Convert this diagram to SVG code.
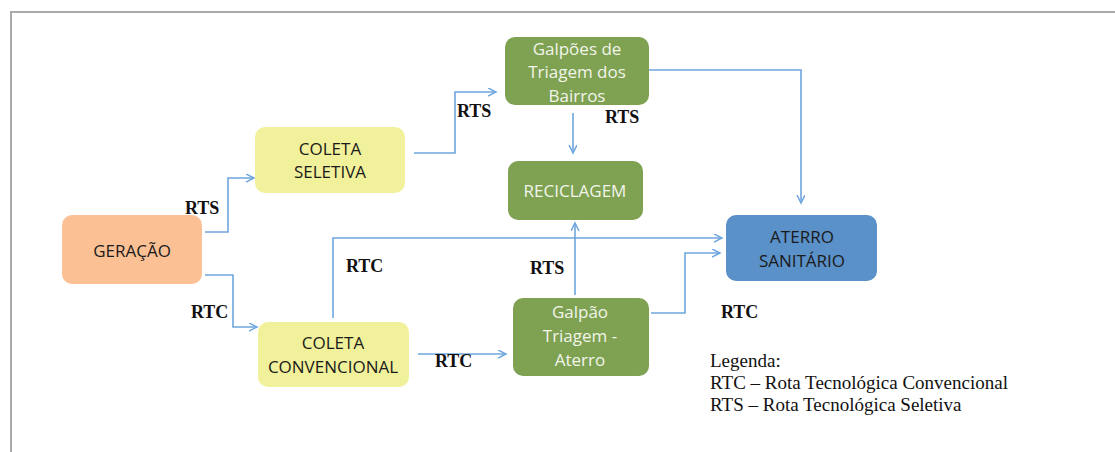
<svg xmlns="http://www.w3.org/2000/svg" width="1115" height="452" viewBox="0 0 1115 452">
<style>
.node text{font-family:"Open Sans","Liberation Sans",sans-serif;font-size:17px;text-anchor:middle}
.dark{fill:#1a1a1a}
.light{fill:#f2f5ea}
.lbl{font-family:"Liberation Serif","Times New Roman",serif;font-size:18px;font-weight:bold;fill:#111}
.leg{font-family:"Liberation Serif","Times New Roman",serif;font-size:19px;fill:#111}
.conn path{fill:none;stroke:#6fa6de;stroke-width:1.6}
.green{fill:#7ea152}
</style>
<defs>
<marker id="arr" markerWidth="10" markerHeight="10" refX="8" refY="4" orient="auto" markerUnits="userSpaceOnUse">
<path d="M0,0 L8,4 L0,8" fill="none" stroke="#6fa6de" stroke-width="1.5"/>
</marker>
</defs>
<rect width="1115" height="452" fill="#fff"/>
<path d="M11,452 V12 H1115" fill="none" stroke="#aaa" stroke-width="2"/>
<g class="conn">
<path d="M205,232 H228 V178 H254" marker-end="url(#arr)"/>
<path d="M205,275 H233 V327 H257" marker-end="url(#arr)"/>
<path d="M414,153 H455 V92 H496" marker-end="url(#arr)"/>
<path d="M573,113 V153" marker-end="url(#arr)"/>
<path d="M649,70 H801 V203" marker-end="url(#arr)"/>
<path d="M333,318 V238 H722" marker-end="url(#arr)"/>
<path d="M418,354 H506" marker-end="url(#arr)"/>
<path d="M575,295 V223" marker-end="url(#arr)"/>
<path d="M651,313 H685 V253 H720" marker-end="url(#arr)"/>
</g>
<g id="geracao" class="node">
<rect x="62" y="215" width="140" height="69" rx="10" fill="#fbc195"/>
<text x="132" y="257" class="dark">GERAÇÃO</text>
</g>
<g id="coleta-seletiva" class="node">
<rect x="255" y="127" width="150" height="66" rx="10" fill="#f2f19b"/>
<text x="330" y="155" class="dark">COLETA</text>
<text x="330" y="178" class="dark">SELETIVA</text>
</g>
<g id="coleta-convencional" class="node">
<rect x="258" y="322" width="151" height="65" rx="10" fill="#f2f19b"/>
<text x="333" y="349" class="dark">COLETA</text>
<text x="333" y="373" class="dark">CONVENCIONAL</text>
</g>
<g id="galpoes-bairros" class="node">
<rect x="505" y="37" width="144" height="68" rx="10" class="green"/>
<text x="577" y="55" class="light">Galpões de</text>
<text x="577" y="78" class="light">Triagem dos</text>
<text x="577" y="102" class="light">Bairros</text>
</g>
<g id="reciclagem" class="node">
<rect x="508" y="161" width="135" height="59" rx="10" class="green"/>
<text x="575" y="197" class="light">RECICLAGEM</text>
</g>
<g id="galpao-aterro" class="node">
<rect x="513" y="298" width="136" height="78" rx="10" class="green"/>
<text x="580" y="318" class="light">Galpão</text>
<text x="580" y="342" class="light">Triagem -</text>
<text x="580" y="366" class="light">Aterro</text>
</g>
<g id="aterro" class="node">
<rect x="726" y="215" width="151" height="66" rx="10" fill="#5a91c8"/>
<text x="802" y="243" class="dark">ATERRO</text>
<text x="802" y="267" class="dark">SANITÁRIO</text>
</g>
<g id="labels">
<text x="185" y="214" class="lbl">RTS</text>
<text x="346" y="272" class="lbl">RTC</text>
<text x="191" y="318" class="lbl">RTC</text>
<text x="457" y="117" class="lbl">RTS</text>
<text x="605" y="123" class="lbl">RTS</text>
<text x="530" y="274" class="lbl">RTS</text>
<text x="435" y="367" class="lbl">RTC</text>
<text x="721" y="318" class="lbl">RTC</text>
</g>
<g id="legend">
<text x="710" y="367" class="leg">Legenda:</text>
<text x="710" y="389" class="leg">RTC – Rota Tecnológica Convencional</text>
<text x="710" y="411" class="leg">RTS – Rota Tecnológica Seletiva</text>
</g>
</svg>
